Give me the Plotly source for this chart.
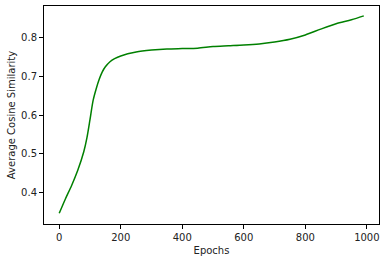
import plotly.graph_objects as go

epochs = [0, 20, 40, 60, 80, 90, 100, 110, 120, 130, 140, 150, 165, 180, 200, 250, 300, 350, 400,
          450, 500, 550, 600, 650, 700, 750, 800, 850, 900, 950, 990]
similarity = [0.347, 0.384, 0.418, 0.457, 0.506, 0.541, 0.588, 0.637, 0.667, 0.692, 0.711, 0.724,
              0.737, 0.745, 0.752, 0.762, 0.767, 0.770, 0.771, 0.772, 0.776, 0.778, 0.780, 0.783,
              0.788, 0.795, 0.806, 0.821, 0.835, 0.845, 0.855]

x_ticks = [0, 200, 400, 600, 800, 1000]
y_ticks = [0.4, 0.5, 0.6, 0.7, 0.8]

fig = go.Figure()
fig.add_trace(go.Scatter(x=epochs, y=similarity, mode="lines",
                         line=dict(color="#008000", width=1.5, shape="spline", smoothing=0.8)))

axis_common = dict(showline=True, linecolor="black", linewidth=1, mirror=True,
                   ticks="outside", ticklen=4, tickcolor="black", showgrid=False,
                   zeroline=False, automargin=False, tickfont=dict(size=10, color="#222"))
fig.update_layout(
    width=386, height=262,
    margin=dict(l=44, r=7, t=6, b=38),
    plot_bgcolor="white", paper_bgcolor="white",
    font=dict(family="DejaVu Sans", size=10, color="#222"),
    showlegend=False,
    xaxis=dict(range=[-49.5, 1039.5], tickvals=x_ticks,
               title=dict(text="Epochs", font=dict(size=10), standoff=4), **axis_common),
    yaxis=dict(range=[0.3195, 0.8805], tickvals=y_ticks, tickformat=".1f",
               title=dict(text="Average Cosine Similarity", font=dict(size=10), standoff=3), **axis_common),
)
fig.write_html("out.html", config={"displayModeBar": False},
               post_script="document.body.style.margin='0';document.body.style.overflow='hidden';")
